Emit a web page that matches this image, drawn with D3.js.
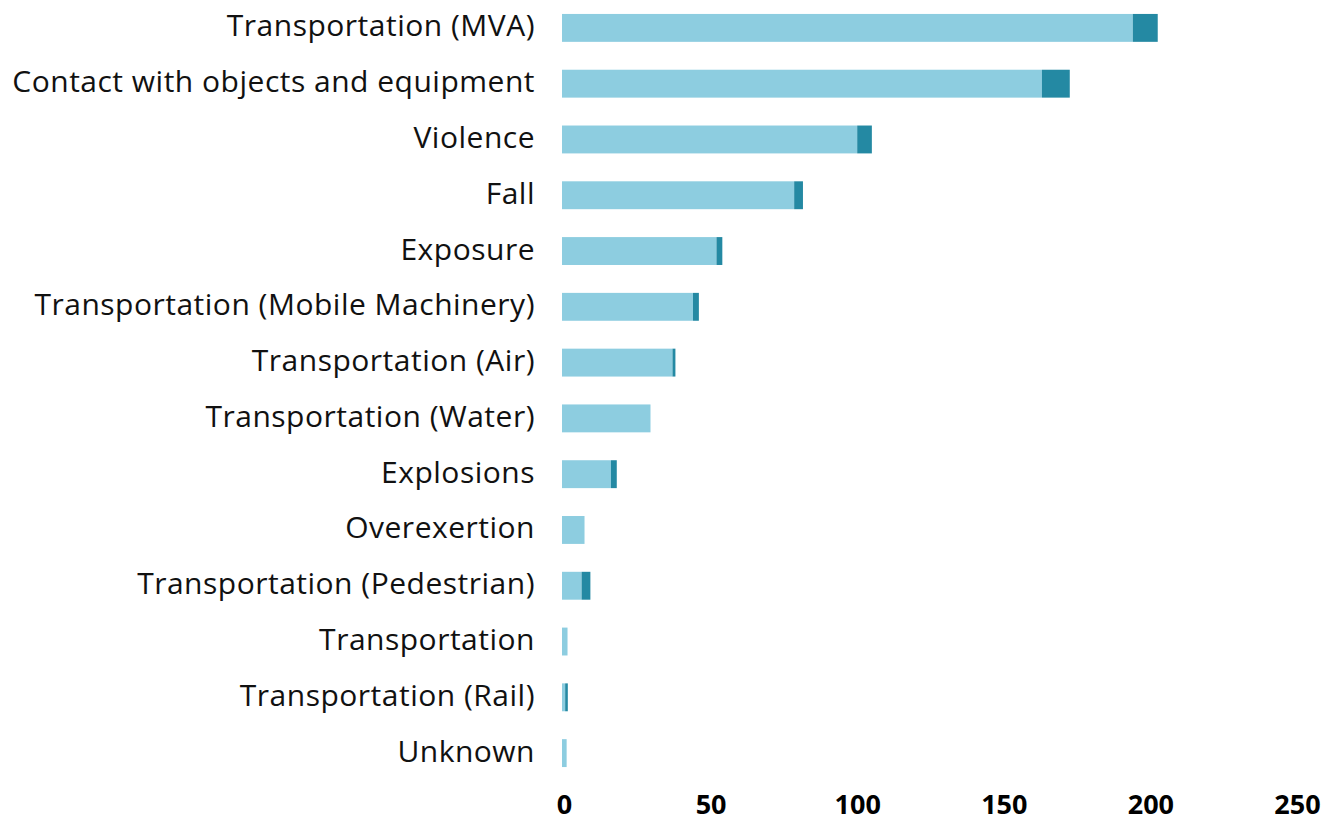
<!DOCTYPE html>
<html>
<head>
<meta charset="utf-8">
<script src="https://cdn.jsdelivr.net/npm/d3@7"></script>
<style>
  body { margin: 0; background: #fff; }
  svg { display: block; }
</style>
</head>
<body>
<svg width="1338" height="825"></svg>
<script>
const categories = [
  "Transportation (MVA)",
  "Contact with objects and equipment",
  "Violence",
  "Fall",
  "Exposure",
  "Transportation (Mobile Machinery)",
  "Transportation (Air)",
  "Transportation (Water)",
  "Explosions",
  "Overexertion",
  "Transportation (Pedestrian)",
  "Transportation",
  "Transportation (Rail)",
  "Unknown"
];
// light segment and dark segment (stacked)
const lightValues = [194, 163, 100, 78.5, 52, 44, 37, 29.5, 16, 7, 6, 1.2, 0.4, 0.9];
const darkValues  = [8.5, 9.5, 5, 3, 2, 2, 1, 0, 2, 0, 3, 0, 0.9, 0];
const ticks = [0, 50, 100, 150, 200, 250];

const svg = d3.select("svg");
const left = 564, right = 1297;

let x = d3.scaleLinear().domain([0, 250]).range([left, right]);
let y = d3.scaleBand().domain(categories).range([0, 781]).paddingInner(0.5).paddingOuter(0.25);

let rows = categories.map(function (c, i) {
  return { name: c, light: lightValues[i], dark: darkValues[i] };
});

let g = svg.append("g");

g.selectAll("rect.light")
  .data(rows)
  .enter()
  .append("rect")
  .attr("class", "light")
  .attr("x", x(0) - 2)
  .attr("y", d => y(d.name))
  .attr("width", d => x(d.light) - x(0) + 2)
  .attr("height", y.bandwidth())
  .attr("fill", "#8dcde0");

g.selectAll("rect.dark")
  .data(rows.filter(d => d.dark > 0))
  .enter()
  .append("rect")
  .attr("class", "dark")
  .attr("x", d => x(d.light))
  .attr("y", d => y(d.name))
  .attr("width", d => x(d.light + d.dark) - x(d.light))
  .attr("height", y.bandwidth())
  .attr("fill", "#2489a3");

g.selectAll("text.label")
  .data(rows)
  .enter()
  .append("text")
  .attr("class", "label")
  .attr("x", 535)
  .attr("y", d => y(d.name) + y.bandwidth() / 2 - 2)
  .attr("dy", "0.35em")
  .attr("text-anchor", "end")
  .style("font-family", "'Open Sans', sans-serif")
  .style("font-size", "30px")
  .style("letter-spacing", "0.5px")
  .style("fill", "#111")
  .text(d => d.name);

let axis = d3.axisBottom(x).tickValues(ticks).tickSize(0).tickPadding(0);
let ax = svg.append("g").attr("transform", "translate(0,795)").call(axis);
ax.select(".domain").remove();
ax.selectAll("text")
  .attr("dy", "0.71em")
  .style("font-family", "'Open Sans', sans-serif")
  .style("font-size", "27px")
  .style("font-weight", "bold")
  .style("fill", "#000");
</script>
</body>
</html>
